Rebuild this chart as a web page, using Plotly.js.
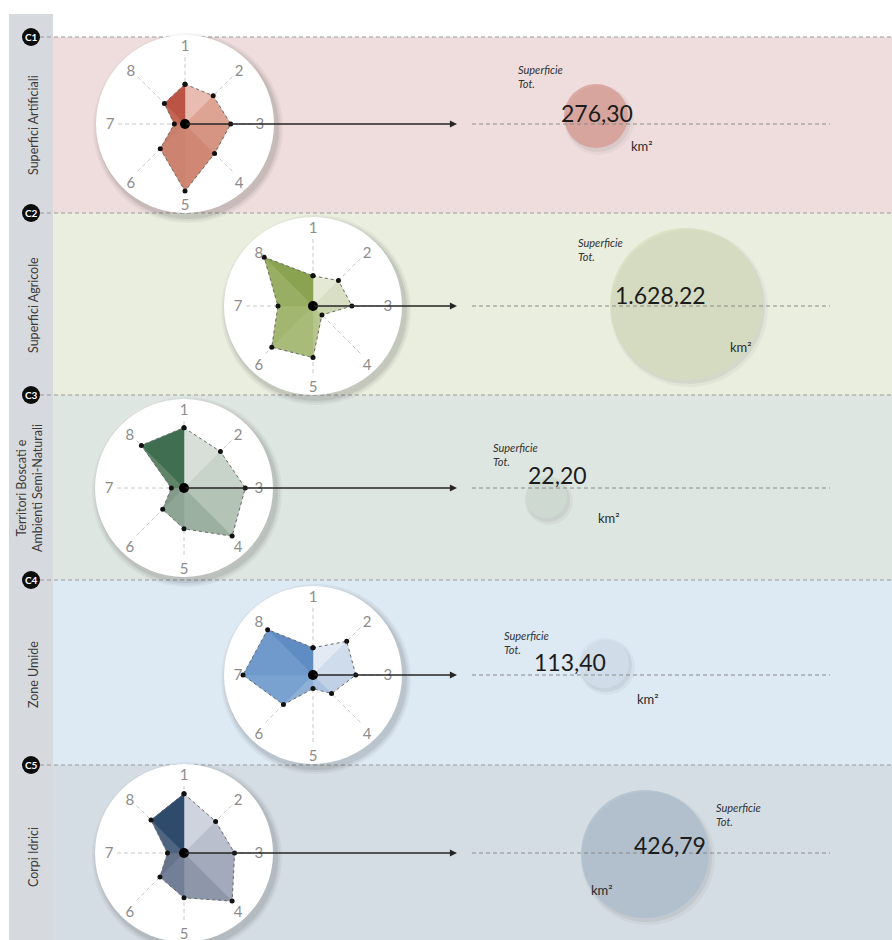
<!DOCTYPE html>
<html><head><meta charset="utf-8">
<script src="https://cdn.plot.ly/plotly-3.0.1.min.js"></script>
<style>html,body{margin:0;padding:0;background:#fff}#chart{width:892px;height:940px}</style>
</head><body><div id="chart"></div>
<script>
// ---------- DATA ----------
const categories = ['Superfici Artificiali', 'Superfici Agricole', 'Territori Boscati e<br>Ambienti Semi-Naturali', 'Zone Umide', 'Corpi Idrici'];
const codes = ['C1', 'C2', 'C3', 'C4', 'C5'];
const axisLabels = ['1', '2', '3', '4', '5', '6', '7', '8'];
const scoresC1 = [41, 41, 47, 43, 69, 36, 11, 30];
const scoresC2 = [31, 37, 40, 13, 53, 60, 36, 71];
const scoresC3 = [62, 53, 63, 70, 42, 31, 13, 62];
const scoresC4 = [28, 49, 44, 27, 14, 43, 72, 66];
const scoresC5 = [61, 46, 52, 70, 46, 35, 17, 48];
const totals = [276.30, 1628.22, 22.20, 113.40, 426.79];
const totalTitle = 'Superficie<br>Tot.';
const unitLabel = 'km²';

// ---------- STYLE / LAYOUT ----------
const W = 892, H = 940;
const allScores = [scoresC1, scoresC2, scoresC3, scoresC4, scoresC5];
const separators = [37, 213, 395, 580, 765];
const bandColors = ['#efdddd', '#e9eedf', '#dee6e1', '#dde9f3', '#d5dde4'];
const radarCenters = [[185, 124], [313, 306], [184, 488], [313, 675], [184, 853]];
const R_CIRCLE = 89, R_POLAR = 70, RMAX = 72;
const shades = [
  ['#e8bcb0', '#dea493', '#d69583', '#d08875', '#cc8470', '#c87e6b', '#c26653', '#bb5444'],
  ['#e4e9d5', '#d8dfc4', '#cbd5b0', '#b7c68f', '#a9bb79', '#a2b66f', '#98ae62', '#8aa350'],
  ['#d8dfd9', '#c8d3ca', '#b3c3b6', '#9cb0a1', '#8ea495', '#849a8b', '#5f8468', '#3f6e50'],
  ['#e3eaf4', '#cfdcec', '#c0d1e6', '#aac2df', '#8eb0d6', '#79a2d0', '#6f9acb', '#5f8cc2'],
  ['#cfd3dd', '#b9bfcd', '#a3aabb', '#8e96a9', '#737f96', '#66738b', '#4f6481', '#2f4b6c']
];
const bubbleXY = [[596, 116], [686, 304], [546, 497], [604, 663], [645, 854]];
const bubbleD = [64, 152, 42, 50, 128];
const bubbleColors = ['#d6948c', '#d6ddbb', '#cfddd3', '#d3e1ee', '#a9bccb'];
const valueXY = [[597, 113], [660, 295], [557, 475], [570, 662], [670, 845]];
const unitXY = [[642, 146], [741, 347], [609, 518], [648, 699], [602, 890]];
const titleXY = [[516, 76], [576, 249], [491, 454], [502, 642], [714, 814]];
const sideLabelY = [125, 305, 488, 675, 857];
const FONT = 'Lato, "Open Sans", sans-serif';

function fmtIt(v) {
  const parts = v.toFixed(2).split('.');
  return parts[0].replace(/\B(?=(\d{3})+(?!\d))/g, '.') + ',' + parts[1];
}

const data = [];
// bubbles (shadow + bubble)
data.push({type: 'scatter', x: bubbleXY.map(p => p[0] + 3), y: bubbleXY.map(p => p[1] + 4), mode: 'markers',
  marker: {size: bubbleD.map(d => d + 6), color: 'rgba(0,0,0,0.05)', line: {width: 0}}, hoverinfo: 'skip', showlegend: false});
data.push({type: 'scatter', x: bubbleXY.map(p => p[0] + 2), y: bubbleXY.map(p => p[1] + 3), mode: 'markers',
  marker: {size: bubbleD.map(d => d + 2), color: 'rgba(0,0,0,0.08)', line: {width: 0}}, hoverinfo: 'skip', showlegend: false});
data.push({type: 'scatter', x: bubbleXY.map(p => p[0]), y: bubbleXY.map(p => p[1]), mode: 'markers',
  text: totals.map(fmtIt), customdata: categories,
  marker: {size: bubbleD, color: bubbleColors, line: {width: 0}}, hoverinfo: 'text', showlegend: false});

const layout = {
  width: W, height: H, autosize: false,
  margin: {l: 0, r: 0, t: 0, b: 0},
  paper_bgcolor: '#ffffff', plot_bgcolor: 'rgba(0,0,0,0)',
  showlegend: false,
  font: {family: FONT},
  xaxis: {range: [0, W], visible: false, fixedrange: true, domain: [0, 1]},
  yaxis: {range: [H, 0], visible: false, fixedrange: true, domain: [0, 1]},
  shapes: [], annotations: []
};

// sidebar
layout.shapes.push({type: 'rect', xref: 'x', yref: 'y', x0: 9, x1: 53, y0: 14, y1: H, fillcolor: '#d6d9de', line: {width: 0}, layer: 'below'});
// bands
separators.forEach((s, i) => {
  const e = i < separators.length - 1 ? separators[i + 1] : H;
  layout.shapes.push({type: 'rect', xref: 'x', yref: 'y', x0: 53, x1: W, y0: s, y1: e, fillcolor: bandColors[i], line: {width: 0}, layer: 'below'});
});
// separators
separators.forEach(s => {
  layout.shapes.push({type: 'line', xref: 'x', yref: 'y', x0: 40, x1: W, y0: s, y1: s, line: {color: '#9a9a9a', width: 1, dash: '4px,3px'}, layer: 'below'});
});
// white circles with shadows
radarCenters.forEach(c => {
  [[6, 0.04], [4, 0.05], [2, 0.07]].forEach(([g, a]) => {
    layout.shapes.push({type: 'circle', xref: 'x', yref: 'y', x0: c[0] - R_CIRCLE - g + 3, x1: c[0] + R_CIRCLE + g + 3, y0: c[1] - R_CIRCLE - g + 4, y1: c[1] + R_CIRCLE + g + 4,
      fillcolor: 'rgba(0,0,0,' + a + ')', line: {width: 0}, layer: 'below'});
  });
  layout.shapes.push({type: 'circle', xref: 'x', yref: 'y', x0: c[0] - R_CIRCLE, x1: c[0] + R_CIRCLE, y0: c[1] - R_CIRCLE, y1: c[1] + R_CIRCLE,
    fillcolor: '#ffffff', line: {width: 0}, layer: 'below'});
});
// badges
separators.forEach((s, i) => {
  layout.shapes.push({type: 'circle', xref: 'x', yref: 'y', x0: 22, x1: 40, y0: s - 9, y1: s + 9, fillcolor: '#0d0d0d', line: {width: 0}, layer: 'below'});
  layout.annotations.push({x: 31, y: s, xref: 'x', yref: 'y', text: '<b>' + codes[i] + '</b>', showarrow: false, font: {size: 10, color: '#ffffff', family: FONT}});
});
// side labels
categories.forEach((c, i) => {
  layout.annotations.push({x: i === 2 ? 29 : 33, y: sideLabelY[i], xref: 'x', yref: 'y', text: c, textangle: -90, showarrow: false,
    font: {size: 12.5, color: '#3c3c3c', family: FONT}});
});
// centre dashed lines
radarCenters.forEach(c => {
  layout.shapes.push({type: 'line', xref: 'x', yref: 'y', x0: 472, x1: 830, y0: c[1], y1: c[1], line: {color: '#8a8a8a', width: 1, dash: '4px,3px'}, layer: 'above'});
});

// radar charts
allScores.forEach((s, k) => {
  const sub = k === 0 ? 'polar' : 'polar' + (k + 1);
  const c = radarCenters[k];
  for (let i = 0; i < 8; i++) {
    const j = (i + 1) % 8;
    data.push({type: 'scatterpolar', subplot: sub, r: [0, s[i], s[j], 0], theta: [axisLabels[i], axisLabels[i], axisLabels[j], axisLabels[i]],
      mode: 'lines', fill: 'toself', fillcolor: shades[k][i], line: {width: 0.5, color: shades[k][i]}, hoverinfo: 'skip', showlegend: false});
  }
  data.push({type: 'scatterpolar', subplot: sub, r: s.concat([s[0]]), theta: axisLabels.concat([axisLabels[0]]), mode: 'lines+markers',
    line: {color: '#6a6a6a', width: 1, dash: 'dot'}, marker: {size: 5, color: '#111111'}, showlegend: false,
    hovertemplate: '%{theta}: %{r}<extra></extra>'});
  data.push({type: 'scatterpolar', subplot: sub, r: [0], theta: [axisLabels[0]], mode: 'markers', marker: {size: 10, color: '#000000'}, hoverinfo: 'skip', showlegend: false});
  layout[sub] = {
    domain: {x: [(c[0] - R_POLAR) / W, (c[0] + R_POLAR) / W], y: [1 - (c[1] + R_POLAR) / H, 1 - (c[1] - R_POLAR) / H]},
    bgcolor: 'rgba(0,0,0,0)',
    radialaxis: {visible: false, range: [0, RMAX]},
    angularaxis: {type: 'category', categoryorder: 'array', categoryarray: axisLabels, rotation: 90, direction: 'clockwise',
      showline: false, ticks: '', showgrid: true, gridcolor: '#c8c8c8', griddash: '4px,3px', gridwidth: 1,
      tickfont: {size: 15, color: '#8c8c8c', family: FONT}}
  };
  // arrow from centre
  layout.annotations.push({x: 457, y: c[1], ax: c[0], ay: c[1], xref: 'x', yref: 'y', axref: 'x', ayref: 'y', text: '', showarrow: true,
    arrowhead: 2, arrowsize: 1.1, arrowwidth: 1.3, arrowcolor: '#262626', standoff: 0, startstandoff: 0});
  // totals text
  layout.annotations.push({x: valueXY[k][0], y: valueXY[k][1], xref: 'x', yref: 'y', text: fmtIt(totals[k]), showarrow: false,
    font: {size: 23, color: '#1c1c1c', family: FONT}});
  layout.annotations.push({x: unitXY[k][0], y: unitXY[k][1], xref: 'x', yref: 'y', text: unitLabel, showarrow: false,
    font: {size: 13, color: '#2a2a2a', family: FONT}});
  layout.annotations.push({x: titleXY[k][0], y: titleXY[k][1], xref: 'x', yref: 'y', text: '<i>' + totalTitle + '</i>', showarrow: false,
    xanchor: 'left', align: 'left', font: {size: 11, color: '#333333', family: FONT}});
});

Plotly.newPlot('chart', data, layout, {displayModeBar: false, staticPlot: false});
</script>
</body></html>
